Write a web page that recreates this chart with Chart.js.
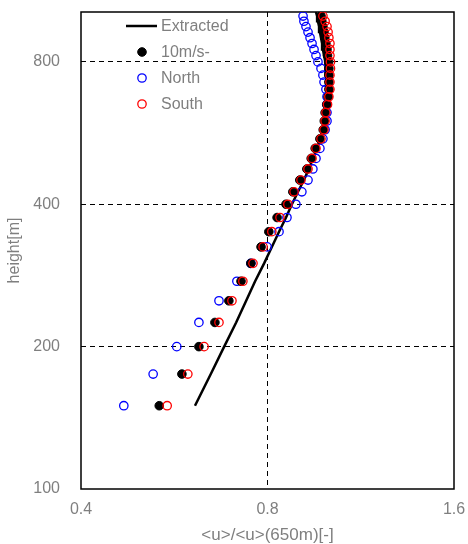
<!DOCTYPE html>
<html>
<head>
<meta charset="utf-8">
<script src="https://cdn.jsdelivr.net/npm/chart.js@4.4.1/dist/chart.umd.min.js"></script>
<style>
  html, body { margin: 0; padding: 0; background: #fff; }
  canvas { display: block; }
</style>
</head>
<body>
<canvas id="c" width="468" height="544"></canvas>
<script>
// heights [m] of the profile samples
const heights = [150, 175, 200, 225, 250, 275, 300, 325, 350, 375, 400, 425, 450, 475, 500,
  525, 550, 575, 600, 625, 650, 675, 700, 725, 750, 775, 800, 825, 850, 875, 900, 925, 950, 975, 1000];

// <u>/<u>(650m) for each group
const fast = [0.535, 0.582, 0.620, 0.658, 0.693, 0.725, 0.752, 0.781, 0.804, 0.829, 0.857, 0.879, 0.902, 0.926, 0.941,
  0.955, 0.972, 0.984, 0.988, 0.991, 0.997, 1.002, 1.005, 1.005, 1.005, 1.005, 1.004, 1.000, 0.998, 0.994, 0.990, 0.987, 0.983, 0.979, 0.976];
const north = [0.469, 0.523, 0.571, 0.620, 0.668, 0.714, 0.752, 0.799, 0.835, 0.860, 0.889, 0.909, 0.930, 0.947, 0.958,
  0.972, 0.983, 0.991, 0.998, 0.998, 0.998, 0.998, 0.994, 0.987, 0.983, 0.976, 0.965, 0.958, 0.951, 0.944, 0.937, 0.930, 0.923, 0.916, 0.913];
const south = [0.551, 0.595, 0.632, 0.668, 0.701, 0.730, 0.758, 0.787, 0.813, 0.838, 0.863, 0.883, 0.906, 0.930, 0.944,
  0.958, 0.976, 0.987, 0.991, 0.994, 1.000, 1.005, 1.009, 1.009, 1.009, 1.011, 1.011, 1.009, 1.009, 1.009, 1.005, 1.002, 0.998, 0.991, 0.983];

// extracted profile (line)
const extractedHeights = [150, 175, 200, 225, 250, 275, 300, 325, 350, 375, 400, 425, 450, 475, 500,
  525, 550, 575, 600, 625, 650, 675, 700, 725, 750, 775, 800, 825, 850, 875, 900, 925, 950, 975, 1000, 1020];
const extracted = [0.611, 0.648, 0.681, 0.712, 0.739, 0.764, 0.790, 0.813, 0.835, 0.857, 0.876, 0.896, 0.916, 0.933, 0.947,
  0.962, 0.972, 0.983, 0.991, 0.994, 0.998, 1.000, 1.000, 0.998, 0.994, 0.993, 0.991, 0.987, 0.983, 0.980, 0.976, 0.972, 0.969, 0.965, 0.962, 0.958];

const xTicks = [0.4, 0.8, 1.6];
const yTicks = [100, 200, 400, 800];
const labels = ["Extracted", "10m/s-", "North", "South"];

const FONT = "'Liberation Sans', Arial, sans-serif";
const GREY = "#7f7f7f";

const pts = (xs, ys) => xs.map((v, i) => ({ x: v, y: ys[i] }));

const boxPlugin = {
  id: "box",
  beforeDatasetsDraw(chart) {
    const { ctx, chartArea: a } = chart;
    ctx.save();
    ctx.strokeStyle = "#000";
    ctx.lineWidth = 1.5;
    ctx.strokeRect(a.left, a.top, a.right - a.left, a.bottom - a.top);
    ctx.restore();
  }
};

// legend drawn inside the plot, top left
const legendPlugin = {
  id: "inlegend",
  afterDraw(chart) {
    const { ctx } = chart;
    const x0 = 142, tx = 161, y0 = 26, dy = 26;
    ctx.save();
    ctx.font = "16px " + FONT;
    ctx.textBaseline = "middle";
    chart.data.datasets.forEach((ds, i) => {
      const y = y0 + i * dy;
      if (ds.showLine) {
        ctx.strokeStyle = ds.borderColor;
        ctx.lineWidth = ds.borderWidth;
        ctx.beginPath();
        ctx.moveTo(126, y);
        ctx.lineTo(157, y);
        ctx.stroke();
      } else {
        ctx.beginPath();
        ctx.arc(x0, y, ds.pointRadius, 0, Math.PI * 2);
        if (ds.pointBackgroundColor !== "transparent") {
          ctx.fillStyle = ds.pointBackgroundColor;
          ctx.fill();
        }
        ctx.strokeStyle = ds.pointBorderColor;
        ctx.lineWidth = ds.pointBorderWidth;
        ctx.stroke();
      }
      ctx.fillStyle = GREY;
      ctx.fillText(labels[i], tx, y + 1);
    });
    ctx.restore();
  }
};

new Chart(document.getElementById("c"), {
  type: "scatter",
  data: {
    datasets: [
      {
        data: pts(extracted, extractedHeights),
        showLine: true,
        borderColor: "#000",
        borderWidth: 2.5,
        pointRadius: 0,
        tension: 0,
        order: 3
      },
      {
        data: pts(fast, heights),
        pointRadius: 4.3,
        pointBackgroundColor: "#000",
        pointBorderColor: "#000",
        pointBorderWidth: 1,
        order: 1
      },
      {
        data: pts(north, heights),
        pointRadius: 4.2,
        pointBackgroundColor: "transparent",
        pointBorderColor: "#0000ff",
        pointBorderWidth: 1.3,
        order: 2
      },
      {
        data: pts(south, heights),
        pointRadius: 4.2,
        pointBackgroundColor: "transparent",
        pointBorderColor: "#ff0000",
        pointBorderWidth: 1.3,
        order: 0
      }
    ]
  },
  options: {
    responsive: false,
    animation: false,
    layout: { padding: { top: 12, right: 14, left: 0, bottom: 0 } },
    plugins: { legend: { display: false }, tooltip: { enabled: false } },
    scales: {
      x: {
        type: "logarithmic",
        min: 0.4,
        max: 1.6,
        afterBuildTicks: s => { s.ticks = xTicks.map(v => ({ value: v })); },
        afterFit: s => { s.height = 55; s.paddingLeft = 0; s.paddingRight = 0; },
        ticks: {
          color: GREY,
          font: { family: FONT, size: 16 },
          padding: 11,
          maxRotation: 0,
          callback: v => v.toFixed(1)
        },
        grid: {
          drawTicks: false,
          color: c => (c.tick && c.tick.value === 0.8 ? "#000" : "transparent"),
          lineWidth: 1
        },
        border: { display: false, dash: [5, 4] },
        title: {
          display: true,
          text: "<u>/<u>(650m)[-]",
          color: GREY,
          font: { family: FONT, size: 17, lineHeight: 1 },
          padding: { top: 0, bottom: 0 }
        }
      },
      y: {
        type: "logarithmic",
        min: 100,
        max: 1020,
        afterBuildTicks: s => { s.ticks = yTicks.map(v => ({ value: v })); },
        afterFit: s => { s.width = 81; s.paddingTop = 0; s.paddingBottom = 0; },
        ticks: {
          color: GREY,
          font: { family: FONT, size: 16 },
          padding: 21,
          callback: v => String(v)
        },
        grid: {
          drawTicks: false,
          color: c => (c.tick && c.tick.value !== 100 ? "#000" : "transparent"),
          lineWidth: 1
        },
        border: { display: false, dash: [5, 4] },
        title: {
          display: true,
          text: "height[m]",
          color: GREY,
          font: { family: FONT, size: 16, lineHeight: 1 },
          padding: { top: 7, bottom: 0 }
        }
      }
    }
  },
  plugins: [boxPlugin, legendPlugin]
});
</script>
</body>
</html>
